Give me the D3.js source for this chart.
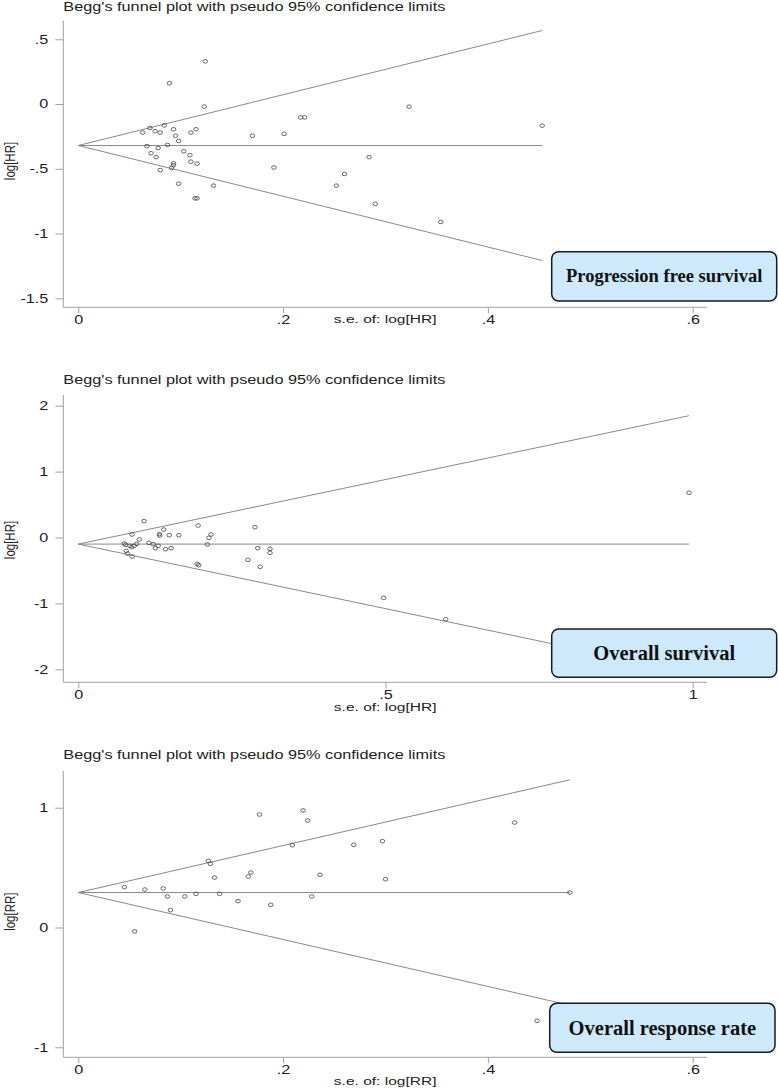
<!DOCTYPE html>
<html>
<head>
<meta charset="utf-8">
<script src="https://cdn.jsdelivr.net/npm/d3@7"></script>
<style>
  html, body { margin: 0; padding: 0; background: #fff; }
  svg { display: block; }
</style>
</head>
<body>
<svg id="chart" width="778" height="1089"></svg>
<script>
// ---------- DATA ----------
const titleText = "Begg's funnel plot with pseudo 95% confidence limits";

// Panel 1: Progression free survival
const pfsSE    = [0.124,0.089,0.123,0.063,0.070,0.075,0.080,0.084,0.093,0.095,0.098,0.110,0.115,0.067,0.078,0.087,0.071,0.076,0.103,0.109,0.110,0.116,0.093,0.093,0.091,0.080,0.098,0.132,0.114,0.116,0.170,0.201,0.217,0.221,0.191,0.252,0.260,0.284,0.290,0.323,0.453,0.354];
const pfsLogHR = [0.33,0.16,-0.02,-0.22,-0.185,-0.21,-0.22,-0.165,-0.195,-0.245,-0.285,-0.22,-0.195,-0.325,-0.34,-0.315,-0.38,-0.41,-0.365,-0.395,-0.445,-0.46,-0.458,-0.473,-0.494,-0.51,-0.615,-0.63,-0.728,-0.728,-0.245,-0.23,-0.103,-0.103,-0.49,-0.63,-0.54,-0.41,-0.77,-0.02,-0.167,-0.91];
const pfsFunnel = { pooled: -0.32, maxSE: 0.453, upper: 0.568, lower: -1.208 };
const pfsYTicks = [-1.5, -1, -0.5, 0, 0.5];
const pfsXTicks = [0, 0.2, 0.4, 0.6];

// Panel 2: Overall survival
const osSE    = [0.075,0.077,0.084,0.087,0.091,0.095,0.0995,0.078,0.080,0.0875,0.115,0.122,0.1255,0.130,0.132,0.1326,0.139,0.142,0.148,0.151,0.1636,0.107,0.0875,0.195,0.1935,0.196,0.210,0.2125,0.216,0.2875,0.292,0.312,0.312,0.276,0.296,0.497,0.598,0.994];
const osLogHR = [-0.091,-0.111,-0.126,-0.147,-0.126,-0.096,-0.03,-0.202,-0.244,-0.288,-0.081,-0.101,-0.163,-0.126,0.051,0.03,0.121,-0.177,0.035,-0.162,0.035,0.248,0.046,0.182,-0.40,-0.42,-0.106,-0.005,0.046,0.157,-0.162,-0.172,-0.233,-0.339,-0.445,-0.915,-1.24,0.68];
const osFunnel = { pooled: -0.10, maxSE: 0.994, upper: 1.848, lower: -2.048 };
const osYTicks = [-2, -1, 0, 1, 2];
const osXTicks = [0, 0.5, 1];

// Panel 3: Overall response rate
const orrSE    = [0.045,0.065,0.083,0.087,0.090,0.055,0.104,0.115,0.127,0.129,0.133,0.138,0.156,0.166,0.1685,0.177,0.188,0.209,0.2195,0.224,0.228,0.236,0.269,0.297,0.300,0.426,0.480,0.448];
const orrLogRR = [0.337,0.317,0.326,0.259,0.145,-0.033,0.259,0.281,0.556,0.531,0.417,0.281,0.220,0.426,0.459,0.943,0.189,0.687,0.977,0.893,0.259,0.440,0.690,0.721,0.403,0.876,0.292,-0.779];
const orrFunnel = { pooled: 0.292, maxSE: 0.48, upper: 1.233, lower: -0.649 };
const orrYTicks = [-1, 0, 1];
const orrXTicks = [0, 0.2, 0.4, 0.6];

// ---------- LAYOUT ----------
const svg = d3.select("#chart");
const SX = 1.35;             // horizontal stretch of the original Stata text
const sansFont = "'Liberation Sans', Arial, Helvetica, sans-serif";
const serifFont = "'Liberation Serif', 'Times New Roman', serif";

const panels = [
  { se: pfsSE, val: pfsLogHR, funnel: pfsFunnel, yTicks: pfsYTicks, xTicks: pfsXTicks,
    xDomain: [0, 0.6], yDomain: [-1.5, 0.5],
    yRange: [298.3, 39.3], axisTop: 20.7, axisBottom: 307.3,
    titleY: 11, xLabelY: 323, yLabelY: 161, yLab: "log[HR]", xLab: "s.e. of: log[HR]",
    box: { x: 551.7, y: 251.7, w: 225, h: 49.3, text: "Progression free survival", size: 18.5 } },
  { se: osSE, val: osLogHR, funnel: osFunnel, yTicks: osYTicks, xTicks: osXTicks,
    xDomain: [0, 1], yDomain: [-2, 2],
    yRange: [669.3, 405.7], axisTop: 395, axisBottom: 682.3,
    titleY: 384, xLabelY: 711.5, yLabelY: 540, yLab: "log[HR]", xLab: "s.e. of: log[HR]",
    box: { x: 551.7, y: 629, w: 225, h: 48.3, text: "Overall survival", size: 20.5 } },
  { se: orrSE, val: orrLogRR, funnel: orrFunnel, yTicks: orrYTicks, xTicks: orrXTicks,
    xDomain: [0, 0.6], yDomain: [-1, 1],
    yRange: [1047.3, 807.7], axisTop: 770.7, axisBottom: 1057.3,
    titleY: 759, xLabelY: 1085.5, yLabelY: 911.7, yLab: "log[RR]", xLab: "s.e. of: log[RR]",
    box: { x: 549.7, y: 1003.3, w: 225.3, h: 49, text: "Overall response rate", size: 20.5 } }
];

const axisLeftX = 63.3, axisRightX = 707;
const xRange = [78.3, 692.7];
const fmt = d => String(d).replace("0.", ".");

function stretchTicks(g) {
  g.selectAll(".tick text").each(function() {
    const t = d3.select(this);
    const x = +t.attr("x") || 0;
    t.attr("x", 0).attr("transform", `translate(${x},0) scale(${SX},1)`);
  });
}

panels.forEach(p => {
  const x = d3.scaleLinear().domain(p.xDomain).range(xRange);
  const y = d3.scaleLinear().domain(p.yDomain).range(p.yRange);
  const g = svg.append("g");

  // Title
  g.append("text")
    .attr("x", axisLeftX).attr("y", p.titleY)
    .attr("font-family", sansFont).attr("font-size", 12).attr("fill", "#222")
    .attr("textLength", 382).attr("lengthAdjust", "spacingAndGlyphs")
    .text(titleText);

  // Axis lines
  g.append("line").attr("x1", axisLeftX).attr("x2", axisLeftX)
    .attr("y1", p.axisTop).attr("y2", p.axisBottom)
    .attr("stroke", "#a0a0a0").attr("stroke-width", 1);
  g.append("line").attr("x1", axisLeftX).attr("x2", axisRightX)
    .attr("y1", p.axisBottom).attr("y2", p.axisBottom)
    .attr("stroke", "#a0a0a0").attr("stroke-width", 1);

  // Y axis
  const ya = g.append("g").attr("transform", `translate(${axisLeftX},0)`)
    .call(d3.axisLeft(y).tickValues(p.yTicks).tickSize(8).tickPadding(7).tickFormat(fmt));
  ya.select(".domain").remove();
  ya.selectAll(".tick line").attr("stroke", "#a0a0a0");
  ya.selectAll(".tick text").attr("font-family", sansFont).attr("font-size", 12).attr("fill", "#222");
  stretchTicks(ya);

  // X axis
  const xa = g.append("g").attr("transform", `translate(0,${p.axisBottom})`)
    .call(d3.axisBottom(x).tickValues(p.xTicks).tickSize(6).tickPadding(2).tickFormat(fmt));
  xa.select(".domain").remove();
  xa.selectAll(".tick line").attr("stroke", "#a0a0a0");
  xa.selectAll(".tick text").attr("font-family", sansFont).attr("font-size", 12).attr("fill", "#222");
  stretchTicks(xa);

  // Axis labels
  const cx = (axisLeftX + axisRightX) / 2;
  g.append("text")
    .attr("x", 0).attr("y", p.xLabelY)
    .attr("text-anchor", "middle")
    .attr("font-family", sansFont).attr("font-size", 11.5).attr("fill", "#222")
    .attr("transform", `translate(${cx},0) scale(${SX},1)`)
    .text(p.xLab);
  g.append("text")
    .attr("text-anchor", "middle").attr("dy", "0.35em")
    .attr("font-family", sansFont).attr("font-size", 11.5).attr("fill", "#222")
    .attr("transform", `translate(10,${p.yLabelY}) scale(${SX},1) rotate(-90)`)
    .text(p.yLab);

  // Funnel lines
  const f = p.funnel;
  const funnelLines = [
    [[0, f.pooled], [f.maxSE, f.pooled]],
    [[0, f.pooled], [f.maxSE, f.upper]],
    [[0, f.pooled], [f.maxSE, f.lower]]
  ];
  const line = d3.line().x(d => x(d[0])).y(d => y(d[1]));
  g.selectAll("path.funnel").data(funnelLines).join("path")
    .attr("class", "funnel")
    .attr("d", line).attr("fill", "none")
    .attr("stroke", "#8a8a8a").attr("stroke-width", 1);

  // Points
  const pts = p.se.map((s, i) => ({ se: s, v: p.val[i] }));
  g.selectAll("ellipse.pt").data(pts).join("ellipse")
    .attr("class", "pt")
    .attr("cx", d => x(d.se)).attr("cy", d => y(d.v))
    .attr("rx", 2.3).attr("ry", 1.8)
    .attr("fill", "none").attr("stroke", "#444").attr("stroke-width", 0.8);

  // Label box
  const b = p.box;
  g.append("rect")
    .attr("x", b.x).attr("y", b.y).attr("width", b.w).attr("height", b.h)
    .attr("rx", 7).attr("ry", 7)
    .attr("fill", "#cde9fb").attr("stroke", "#1a1a1a").attr("stroke-width", 1.5);
  g.append("text")
    .attr("x", b.x + b.w / 2).attr("y", b.y + b.h / 2)
    .attr("dy", "0.33em").attr("text-anchor", "middle")
    .attr("font-family", serifFont).attr("font-weight", "bold")
    .attr("font-size", b.size).attr("fill", "#111")
    .text(b.text);
});
</script>
</body>
</html>
